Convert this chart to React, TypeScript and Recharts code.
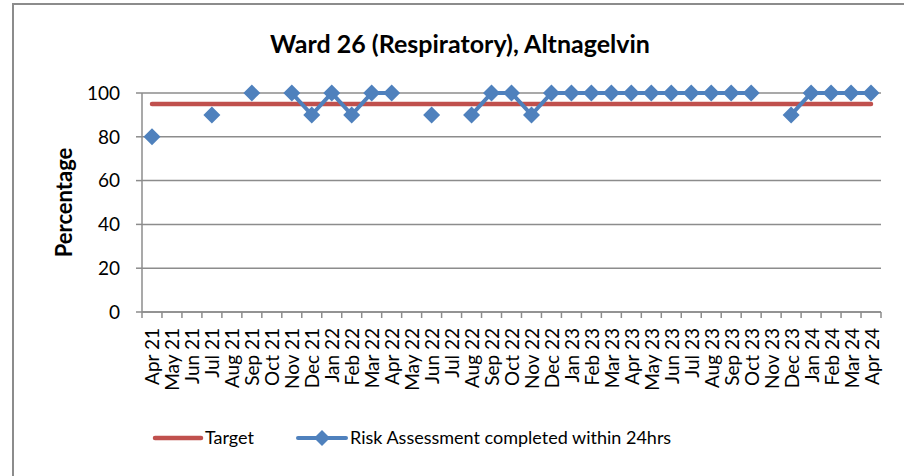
import { LineChart, Line, XAxis, YAxis, CartesianGrid, Legend } from "recharts";

const MONTHS = [
  "Apr 21", "May 21", "Jun 21", "Jul 21", "Aug 21", "Sep 21", "Oct 21", "Nov 21", "Dec 21",
  "Jan 22", "Feb 22", "Mar 22", "Apr 22", "May 22", "Jun 22", "Jul 22", "Aug 22", "Sep 22",
  "Oct 22", "Nov 22", "Dec 22", "Jan 23", "Feb 23", "Mar 23", "Apr 23", "May 23", "Jun 23",
  "Jul 23", "Aug 23", "Sep 23", "Oct 23", "Nov 23", "Dec 23", "Jan 24", "Feb 24", "Mar 24",
  "Apr 24",
];

// null = no return that month (gap in the line)
const RISK_24HRS: (number | null)[] = [
  80, null, null, 90, null, 100, null, 100, 90,
  100, 90, 100, 100, null, 90, null, 90, 100,
  100, 90, 100, 100, 100, 100, 100, 100, 100,
  100, 100, 100, 100, null, 90, 100, 100, 100,
  100,
];

const TARGET = 95;
const Y_TICKS = [0, 20, 40, 60, 80, 100];

const RED = "#C0504D";
const BLUE = "#4F81BD";
const GREY = "#8c8c8c";
const FONT = "Lato, 'Noto Sans', sans-serif";

const data = MONTHS.map((month, i) => ({
  month,
  target: TARGET,
  risk: RISK_24HRS[i],
}));

const Diamond = (props: any) => {
  const { cx, cy, value, index } = props;
  if (value == null || cx == null || cy == null) return <g key={`d-${index}`} />;
  const r = 8.5;
  return (
    <path
      key={`d-${index}`}
      d={`M${cx},${cy - r}L${cx + r},${cy}L${cx},${cy + r}L${cx - r},${cy}Z`}
      fill={BLUE}
    />
  );
};

// Excel-style: tick marks sit between categories, labels read bottom-to-top
const MonthTick = (props: any) => {
  const { x, y, payload, index, visibleTicksCount } = props;
  const half = payload.offset ?? 0;
  const ty = y + 16;
  return (
    <g>
      <line x1={x - half} x2={x - half} y1={y} y2={y + 6} stroke={GREY} strokeWidth={1.5} />
      {index === visibleTicksCount - 1 && (
        <line x1={x + half} x2={x + half} y1={y} y2={y + 6} stroke={GREY} strokeWidth={1.5} />
      )}
      <text
        x={x}
        y={ty}
        transform={`rotate(-90, ${x}, ${ty})`}
        textAnchor="end"
        dominantBaseline="central"
        fontSize={19}
        fontFamily={FONT}
        fill="#000"
      >
        {payload.value}
      </text>
    </g>
  );
};

const LegendBox = () => (
  <div style={{ position: "relative", height: 28, fontFamily: FONT, fontSize: 18, color: "#000" }}>
    <svg width={52} height={12} style={{ position: "absolute", left: 152, top: 8 }}>
      <line x1={3} x2={49} y1={6} y2={6} stroke={RED} strokeWidth={4.5} strokeLinecap="round" />
    </svg>
    <span style={{ position: "absolute", left: 205, top: 1, lineHeight: "24px" }}>Target</span>
    <svg width={54} height={20} style={{ position: "absolute", left: 295, top: 4 }}>
      <line x1={3} x2={51} y1={10} y2={10} stroke={BLUE} strokeWidth={4} strokeLinecap="round" />
      <path d="M27,2L35,10L27,18L19,10Z" fill={BLUE} />
    </svg>
    <span style={{ position: "absolute", left: 350, top: 1, lineHeight: "24px", whiteSpace: "nowrap" }}>
      Risk Assessment completed within 24hrs
    </span>
  </div>
);

export default function App() {
  return (
    <div style={{ position: "absolute", left: 0, top: 0, width: 904, height: 476, background: "#fff", overflow: "hidden" }}>
      <div style={{ position: "absolute", left: 12, top: 3, width: 892, height: 2, background: GREY }} />
      <div style={{ position: "absolute", left: 12, top: 3, width: 2, height: 473, background: GREY }} />
      <div
        style={{
          position: "absolute",
          left: 460,
          top: 28,
          transform: "translateX(-50%)",
          whiteSpace: "nowrap",
          fontFamily: FONT,
          fontWeight: 700,
          fontSize: 25,
          color: "#000",
        }}
      >
        Ward 26 (Respiratory), Altnagelvin
      </div>
      <LineChart
        width={904}
        height={476}
        data={data}
        margin={{ top: 93, right: 23, left: 0, bottom: 24 }}
      >
        <CartesianGrid vertical={false} stroke={GREY} strokeWidth={1.5} />
        <XAxis
          dataKey="month"
          scale="band"
          interval={0}
          height={112}
          tickSize={0}
          tickMargin={0}
          axisLine={{ stroke: GREY, strokeWidth: 1.5 }}
          tickLine={false}
          tick={<MonthTick />}
        />
        <YAxis
          width={142}
          domain={[0, 100]}
          ticks={Y_TICKS}
          interval={0}
          tickSize={6}
          tickMargin={16}
          axisLine={{ stroke: GREY, strokeWidth: 1.5 }}
          tickLine={{ stroke: GREY, strokeWidth: 1.5 }}
          tick={{ fontSize: 19, fontFamily: FONT, fill: "#000" }}
          label={{
            value: "Percentage",
            angle: -90,
            position: "insideLeft",
            offset: 64,
            style: { fontSize: 22, fontWeight: 700, fontFamily: FONT, fill: "#000", textAnchor: "middle" },
          }}
        />
        <Legend verticalAlign="bottom" align="left" height={28} content={() => <LegendBox />} />
        <Line
          dataKey="target"
          name="Target"
          stroke={RED}
          strokeWidth={4.5}
          strokeLinecap="round"
          dot={false}
          activeDot={false}
          isAnimationActive={false}
        />
        <Line
          dataKey="risk"
          name="Risk Assessment completed within 24hrs"
          stroke={BLUE}
          strokeWidth={4}
          dot={Diamond}
          activeDot={false}
          connectNulls={false}
          isAnimationActive={false}
        />
      </LineChart>
    </div>
  );
}
